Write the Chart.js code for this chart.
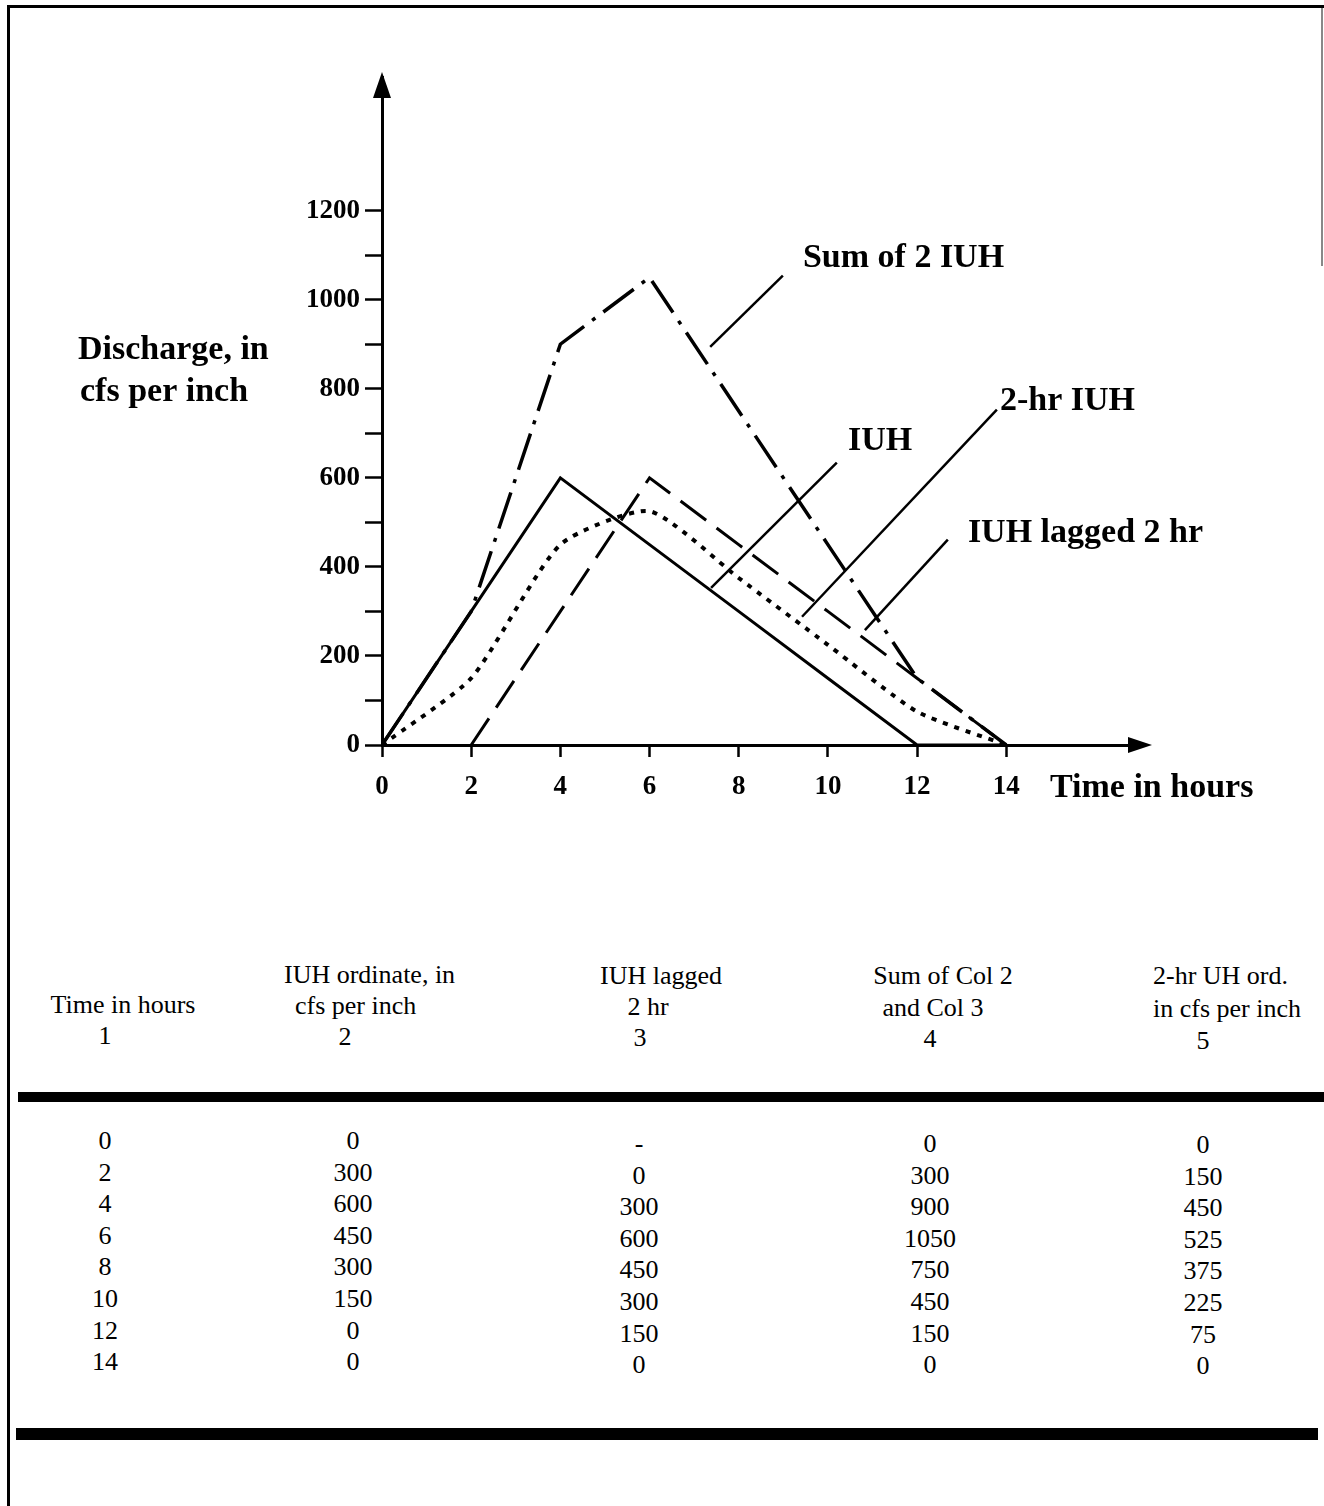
<!DOCTYPE html>
<html>
<head>
<meta charset="utf-8">
<script src="https://cdn.jsdelivr.net/npm/chart.js@4.4.1/dist/chart.umd.min.js"></script>
<style>
  html, body { margin: 0; padding: 0; background: #fff; }
  body { width: 1324px; height: 1506px; position: relative; overflow: hidden; font-family: 'Liberation Serif', 'Times New Roman', serif; color: #000; }
  #chartBox { position: absolute; left: 0; top: 0; width: 1324px; height: 900px; }
  .rule { position: absolute; background: #000; }
  .cell { position: absolute; font-size: 26px; line-height: 30px; white-space: nowrap; transform: translate(-50%, -50%); }
  .cell.left { transform: translate(0, -50%); }
</style>
</head>
<body>
<!-- page frame -->
<div class="rule" style="left:7px;top:5px;width:1317px;height:3px"></div>
<div class="rule" style="left:7px;top:5px;width:3px;height:1501px"></div>
<div class="rule" style="left:1321px;top:8px;width:1.5px;height:258px;background:#888"></div>

<div id="chartBox"><canvas id="hydroChart"></canvas></div>

<!-- table rules -->
<div class="rule" style="left:18px;top:1092px;width:1306px;height:10px"></div>
<div class="rule" style="left:16px;top:1428px;width:1302px;height:12px"></div>
<div id="table"></div>

<script>
const hours = [0, 2, 4, 6, 8, 10, 12, 14];
const iuh = [0, 300, 600, 450, 300, 150, 0, 0];
const iuhLagged = [null, 0, 300, 600, 450, 300, 150, 0];
const sumIuh = [0, 300, 900, 1050, 750, 450, 150, 0];
const uh2hr = [0, 150, 450, 525, 375, 225, 75, 0];

const xTicks = [0, 2, 4, 6, 8, 10, 12, 14];
const yTicks = [0, 100, 200, 300, 400, 500, 600, 700, 800, 900, 1000, 1100, 1200];

const headers = [
    ['Time in hours', '1'],
    ['IUH ordinate, in', 'cfs per inch', '2'],
    ['IUH lagged', '2 hr', '3'],
    ['Sum of Col 2', 'and Col 3', '4'],
    ['2-hr UH ord.', 'in cfs per inch', '5']
];

const SERIF = "'Liberation Serif', 'Times New Roman', serif";

function toPoints(vals) {
    return hours.map((h, i) => ({ x: h, y: vals[i] }));
}

// leader lines from label to curve, in data units
const callouts = [
    { text: 'Sum of 2 IUH', from: [8.99, 1054], to: [7.36, 894], at: [9.44, 1094] },
    { text: 'IUH', from: [10.20, 634], to: [7.38, 353], at: [10.45, 683] },
    { text: '2-hr IUH', from: [13.79, 753], to: [9.42, 288], at: [13.86, 771] },
    { text: 'IUH lagged 2 hr', from: [12.69, 461], to: [10.83, 258], at: [13.14, 476] }
];

const decorPlugin = {
    id: 'decor',
    afterDraw(chart) {
        const ctx = chart.ctx;
        const xs = chart.scales.x, ys = chart.scales.y;
        const area = chart.chartArea;
        const x0 = xs.getPixelForValue(0), y0 = ys.getPixelForValue(0);
        ctx.save();
        ctx.fillStyle = '#000';
        ctx.strokeStyle = '#000';

        // arrow heads on the axes
        ctx.beginPath();
        ctx.moveTo(x0, area.top - 5);
        ctx.lineTo(x0 - 9, area.top + 21);
        ctx.lineTo(x0 + 9, area.top + 21);
        ctx.closePath();
        ctx.fill();
        ctx.beginPath();
        ctx.moveTo(area.right + 12, y0);
        ctx.lineTo(area.right - 12, y0 - 8);
        ctx.lineTo(area.right - 12, y0 + 8);
        ctx.closePath();
        ctx.fill();

        // callouts
        ctx.lineWidth = 2.5;
        ctx.font = 'bold 34px ' + SERIF;
        ctx.textBaseline = 'middle';
        ctx.textAlign = 'left';
        callouts.forEach(c => {
            ctx.beginPath();
            ctx.moveTo(xs.getPixelForValue(c.from[0]), ys.getPixelForValue(c.from[1]));
            ctx.lineTo(xs.getPixelForValue(c.to[0]), ys.getPixelForValue(c.to[1]));
            ctx.stroke();
            ctx.fillText(c.text, xs.getPixelForValue(c.at[0]), ys.getPixelForValue(c.at[1]));
        });

        // axis titles
        ctx.font = 'bold 34px ' + SERIF;
        ctx.fillText('Discharge, in', 78, 350);
        ctx.fillText('cfs per inch', 80, 392);
        ctx.fillText('Time in hours', 1050, 788);
        ctx.restore();
    }
};

function initChart() {
    const ctx = document.getElementById('hydroChart').getContext('2d');
    const tickFont = { family: SERIF, weight: 'bold', size: 27 };

    new Chart(ctx, {
        type: 'line',
        data: {
            datasets: [
                { label: 'IUH', data: toPoints(iuh), borderWidth: 3 },
                { label: 'IUH lagged 2 hr', data: toPoints(iuhLagged), borderWidth: 3, borderDash: [32, 13] },
                { label: 'Sum of 2 IUH', data: toPoints(sumIuh), borderWidth: 3.5, borderDash: [38, 10, 4, 10] },
                { label: '2-hr IUH', data: toPoints(uh2hr), borderWidth: 4, borderDash: [5, 7], tension: 0.2 }
            ].map(d => Object.assign({ borderColor: '#000', pointRadius: 0, fill: false, tension: 0 }, d))
        },
        options: {
            responsive: true,
            maintainAspectRatio: false,
            animation: false,
            layout: { padding: { top: 77, right: 184, left: 0, bottom: 0 } },
            scales: {
                x: {
                    type: 'linear',
                    min: 0,
                    max: 17,
                    afterBuildTicks: s => { s.ticks = xTicks.map(v => ({ value: v })); },
                    afterFit: s => { s.height = 155; },
                    border: { display: true, color: '#000', width: 3 },
                    grid: { drawOnChartArea: false, drawTicks: true, tickLength: 12, tickColor: '#000', tickWidth: 2.5 },
                    ticks: { color: '#000', font: tickFont, padding: 14, maxRotation: 0 }
                },
                y: {
                    min: 0,
                    max: 1500,
                    afterBuildTicks: s => { s.ticks = yTicks.map(v => ({ value: v })); },
                    afterFit: s => { s.width = 382; },
                    border: { display: true, color: '#000', width: 3 },
                    grid: { drawOnChartArea: false, drawTicks: true, tickLength: 17, tickColor: '#000', tickWidth: 2.5 },
                    ticks: {
                        color: '#000',
                        font: tickFont,
                        padding: 5,
                        callback: v => (v % 200 === 0 ? String(v) : '')
                    }
                }
            },
            plugins: {
                legend: { display: false },
                tooltip: { enabled: false }
            }
        },
        plugins: [decorPlugin]
    });
}

function renderTable() {
    const box = document.getElementById('table');
    // column centres and small vertical skew of the scan
    const cols = [
        { cx: 105, dy: 0 },
        { cx: 353, dy: 0 },
        { cx: 639, dy: 3 },
        { cx: 930, dy: 3 },
        { cx: 1203, dy: 4 }
    ];
    // header lines (two-line headers sit one line higher)
    const headPos = [
        [{ x: 123, y: 1005 }, { x: 105, y: 1036 }],
        [{ x: 284, y: 975, left: true }, { x: 295, y: 1006, left: true }, { x: 345, y: 1037 }],
        [{ x: 661, y: 976 }, { x: 648, y: 1007 }, { x: 640, y: 1038 }],
        [{ x: 943, y: 976 }, { x: 933, y: 1008 }, { x: 930, y: 1039 }],
        [{ x: 1153, y: 976, left: true }, { x: 1153, y: 1009, left: true }, { x: 1203, y: 1041 }]
    ];
    const addCell = (text, x, y, left) => {
        const d = document.createElement('div');
        d.className = left ? 'cell left' : 'cell';
        d.style.left = x + 'px';
        d.style.top = y + 'px';
        d.textContent = text;
        box.appendChild(d);
    };
    headers.forEach((lines, c) => {
        lines.forEach((t, k) => addCell(t, headPos[c][k].x, headPos[c][k].y, headPos[c][k].left));
    });
    const columns = [hours, iuh, iuhLagged, sumIuh, uh2hr];
    hours.forEach((h, r) => {
        columns.forEach((col, c) => {
            const v = col[r];
            addCell(v === null ? '-' : String(v), cols[c].cx, 1141 + r * 31.6 + cols[c].dy);
        });
    });
}

initChart();
renderTable();
</script>
</body>
</html>
